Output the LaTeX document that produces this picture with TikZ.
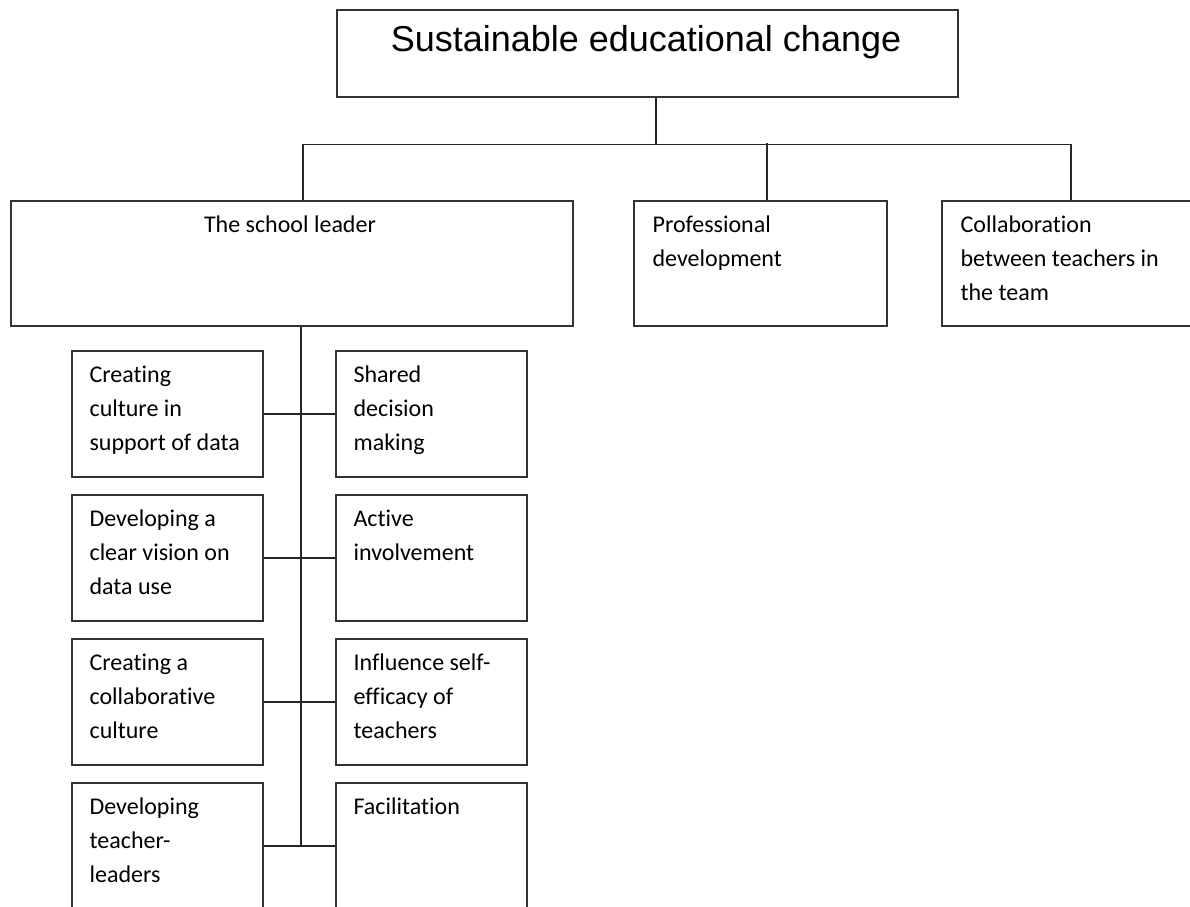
\documentclass[tikz,border=0pt]{standalone}
\usepackage{fontspec}
\setmainfont{Carlito}[Ligatures=CommonOff]
\newfontfamily\titlefont{Liberation Sans}

\tikzset{
	box/.style={draw=black!80, line width=1pt, rectangle, inner sep=0pt},
	boxsize/.style 2 args={minimum width=#1*0.75pt, minimum height=#2*0.75pt},
	txt/.style={anchor=north west, inner sep=0pt, align=left,
		font=\fontsize{18}{25.5}\selectfont},
	wire/.style={draw=black!85, line width=1pt}
}

\begin{document}
\begin{tikzpicture}[x=0.75pt,y=-0.75pt]
\clip (0,0) rectangle (1190,907);

%% Top level %%
\node[box, boxsize={621}{87}] (title) at (647.5,53.5) {};
\node[font=\titlefont\fontsize{27}{32}\selectfont, anchor=base, inner sep=0pt]
	(titletext) at ([shift={(-1.5,42)}]title.north) {Sustainable educational change};

\node[box, boxsize={562}{125}] (leader) at (292,263.5) {};
\node[box, boxsize={253}{125}] (prof) at (760.5,263.5) {};
\node[box, boxsize={258}{125}] (collab) at (1071,263.5) {};
\node[txt, anchor=north] at ([shift={(-2,8)}]leader.north) {\strut The school leader};
\node[txt] at ([shift={(19,8)}]prof.north west) {\strut Professional\\development};
\node[txt] at ([shift={(19,8)}]collab.north west) {\strut Collaboration\\between teachers in\\the team};

\draw[wire] ([shift={(8.5,0)}]title.south) -- ++(0,47) coordinate (hub);
\draw[wire] ([shift={(11,0)}]leader.north) |- (hub) -| (collab.north);
\draw[wire] ([shift={(6.5,0)}]prof.north) -- ++(0,-57);

%% School leader tasks %%
\foreach \i/\ltext/\rtext in {
	1/{Creating\\culture in\\support of data}/{Shared\\decision\\making},
	2/{Developing a\\clear vision on\\data use}/{Active\\involvement},
	3/{Creating a\\collaborative\\culture}/{Influence self-\\efficacy of\\teachers},
	4/{Developing\\teacher-\\leaders}/{Facilitation}}
{
	\node[box, boxsize={191}{126}] (l\i) at (167.5,270+144*\i) {};
	\node[box, boxsize={191}{126}] (r\i) at (431.5,270+144*\i) {};
	\node[txt] at ([shift={(18,8)}]l\i.north west) {\strut\ltext};
	\node[txt] at ([shift={(18,8)}]r\i.north west) {\strut\rtext};
	\draw[wire] (l\i) -- (r\i);
}
\draw[wire] ([shift={(9,0)}]leader.south) coordinate (sp) -- (sp |- l4.east);
\end{tikzpicture}
\end{document}
